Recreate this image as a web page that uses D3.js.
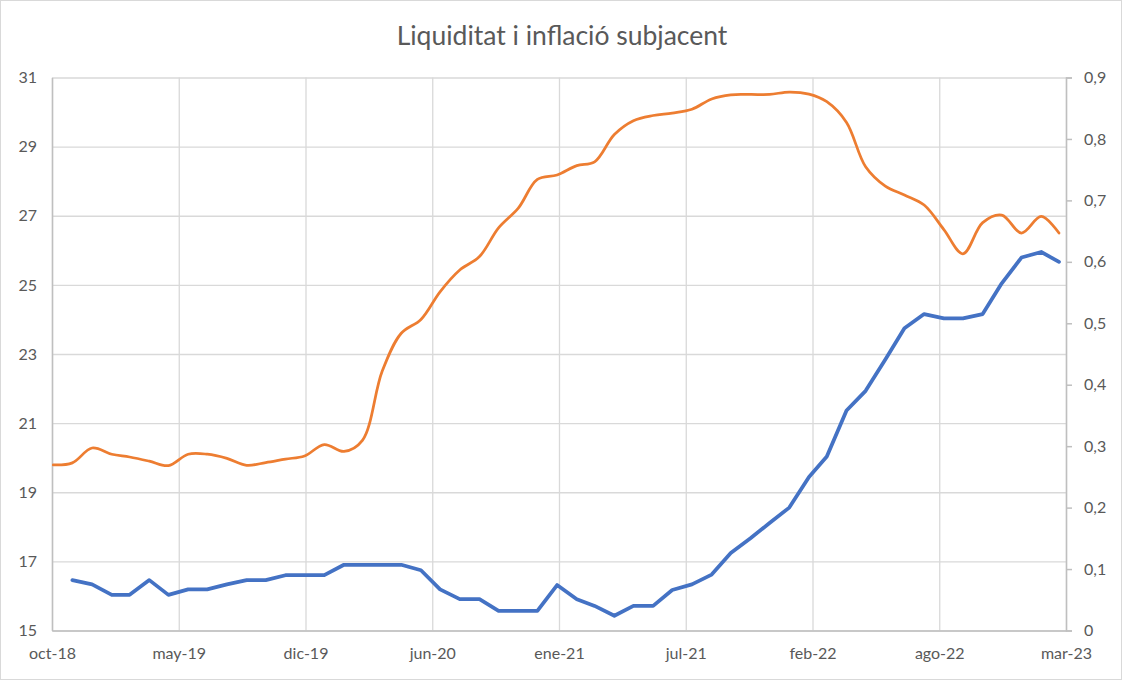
<!DOCTYPE html>
<html>
<head>
<meta charset="utf-8">
<script src="https://cdn.jsdelivr.net/npm/d3@7"></script>
<style>
  body { margin: 0; background: #fff; }
  text { font-family: Lato, "Open Sans", sans-serif; fill: #595959; }
</style>
</head>
<body>
<div id="chart"></div>
<script>
// Month of each observation (end of month)
const periods = [
  '2018-10', '2018-11', '2018-12',
  '2019-01', '2019-02', '2019-03', '2019-04', '2019-05', '2019-06', '2019-07', '2019-08', '2019-09', '2019-10', '2019-11', '2019-12',
  '2020-01', '2020-02', '2020-03', '2020-04', '2020-05', '2020-06', '2020-07', '2020-08', '2020-09', '2020-10', '2020-11', '2020-12',
  '2021-01', '2021-02', '2021-03', '2021-04', '2021-05', '2021-06', '2021-07', '2021-08', '2021-09', '2021-10', '2021-11', '2021-12',
  '2022-01', '2022-02', '2022-03', '2022-04', '2022-05', '2022-06', '2022-07', '2022-08', '2022-09', '2022-10', '2022-11', '2022-12',
  '2023-01', '2023-02'
];

// Orange series, left axis (starts oct-18)
const liquidity = [
  19.79, 19.85, 20.28, 20.10, 20.02, 19.90, 19.77, 20.10, 20.10, 19.98, 19.78, 19.86, 19.96,
  20.05, 20.38, 20.18, 20.50, 22.50, 23.60, 24.00, 24.80, 25.43, 25.82, 26.65, 27.22, 28.05,
  28.18, 28.45, 28.56, 29.35, 29.75, 29.90, 29.97, 30.08, 30.38, 30.50, 30.51, 30.51, 30.58,
  30.52, 30.30, 29.70, 28.42, 27.86, 27.60, 27.31, 26.60, 25.90, 26.80, 27.02, 26.50, 26.98, 26.50
];

// Blue series, right axis (starts nov-18)
const coreInflation = [
  0.082, 0.075, 0.058, 0.058, 0.082, 0.058, 0.067, 0.067, 0.075, 0.082, 0.082, 0.090,
  0.090, 0.090, 0.107, 0.107, 0.107, 0.107, 0.098, 0.067, 0.051, 0.051, 0.032, 0.032,
  0.032, 0.074, 0.051, 0.040, 0.024, 0.040, 0.040, 0.066, 0.075, 0.091, 0.126, 0.150,
  0.175, 0.200, 0.250, 0.283, 0.358, 0.390, 0.441, 0.492, 0.515, 0.508, 0.508, 0.515,
  0.565, 0.607, 0.616, 0.600
];

const xTickLabels = ['oct-18', 'may-19', 'dic-19', 'jun-20', 'ene-21', 'jul-21', 'feb-22', 'ago-22', 'mar-23'];
const leftTicks = [15, 17, 19, 21, 23, 25, 27, 29, 31];
const rightTicks = [0, 0.1, 0.2, 0.3, 0.4, 0.5, 0.6, 0.7, 0.8, 0.9];

const W = 1122, H = 680;
const margin = { top: 77.5, right: 56, bottom: 49.5, left: 52 };
const width = W - margin.left - margin.right;
const height = H - margin.top - margin.bottom;

const parseMonth = d3.utcParse('%Y-%m');
const monthEnd = s => d3.utcDay.offset(d3.utcMonth.offset(parseMonth(s), 1), -1);
const dates = periods.map(monthEnd);

const orangeData = liquidity.map((v, i) => ({ date: dates[i], value: v }));
const blueData = coreInflation.map((v, i) => ({ date: dates[i + 1], value: v }));

const svg = d3.select('#chart')
  .append('svg')
  .attr('width', W)
  .attr('height', H);

// Chart border
svg.append('rect')
  .attr('x', 0.5).attr('y', 0.5)
  .attr('width', W - 1).attr('height', H - 1)
  .attr('fill', '#fff')
  .attr('stroke', '#d9d9d9');

const g = svg.append('g')
  .attr('transform', `translate(${margin.left}, ${margin.top})`);

// Scales
const xStart = new Date(Date.UTC(2018, 9, 29));
const xEnd = new Date(Date.UTC(2023, 2, 11));
const x = d3.scaleUtc().domain([xStart, xEnd]).range([0, width]);
const xTicks = d3.range(xTickLabels.length)
  .map(k => new Date(+xStart + k * (xEnd - xStart) / (xTickLabels.length - 1)));

const yLeft = d3.scaleLinear().domain([15, 31]).range([height, 0]);
const yRight = d3.scaleLinear().domain([0, 0.9]).range([height, 0]);

// Gridlines
g.append('g')
  .attr('class', 'grid')
  .call(d3.axisLeft(yLeft).tickValues(leftTicks).tickSize(-width).tickFormat(''))
  .call(s => s.select('.domain').remove())
  .call(s => s.selectAll('line').attr('stroke', '#d9d9d9').attr('stroke-width', 1.3));

g.append('g')
  .attr('class', 'grid')
  .attr('transform', `translate(0, ${height})`)
  .call(d3.axisBottom(x).tickValues(xTicks).tickSize(-height).tickFormat(''))
  .call(s => s.select('.domain').remove())
  .call(s => s.selectAll('line').attr('stroke', '#d9d9d9').attr('stroke-width', 1.3));

// Axes
const fmtRight = d => d === 0 ? '0' : d.toFixed(1).replace('.', ',');

g.append('g')
  .call(d3.axisLeft(yLeft).tickValues(leftTicks).tickSize(0).tickPadding(15))
  .call(s => s.select('.domain').attr('stroke', '#bfbfbf').attr('stroke-width', 1.5))
  .call(s => s.selectAll('text').style('font-size', '16px').attr('fill', '#595959'));

g.append('g')
  .attr('transform', `translate(${width}, 0)`)
  .call(d3.axisRight(yRight).tickValues(rightTicks).tickSize(6).tickPadding(12).tickFormat(fmtRight))
  .call(s => s.select('.domain').attr('stroke', '#bfbfbf').attr('stroke-width', 1.5))
  .call(s => s.selectAll('line').attr('stroke', '#bfbfbf').attr('stroke-width', 1.5))
  .call(s => s.selectAll('text').style('font-size', '16px').attr('fill', '#595959'));

g.append('g')
  .attr('transform', `translate(0, ${height})`)
  .call(d3.axisBottom(x).tickValues(xTicks).tickSize(0).tickPadding(17)
    .tickFormat((d, i) => xTickLabels[i]))
  .call(s => s.select('.domain').attr('stroke', '#bfbfbf').attr('stroke-width', 1.5))
  .call(s => s.selectAll('text').style('font-size', '16px').attr('fill', '#595959'));

// Lines
const orangeLine = d3.line()
  .x(d => x(d.date))
  .y(d => yLeft(d.value))
  .curve(d3.curveCatmullRom.alpha(0.5));

const blueLine = d3.line()
  .x(d => x(d.date))
  .y(d => yRight(d.value));

g.append('path')
  .datum(orangeData)
  .attr('fill', 'none')
  .attr('stroke', '#ed7d31')
  .attr('stroke-width', 2.75)
  .attr('stroke-linejoin', 'round')
  .attr('stroke-linecap', 'round')
  .attr('d', orangeLine);

g.append('path')
  .datum(blueData)
  .attr('fill', 'none')
  .attr('stroke', '#4472c4')
  .attr('stroke-width', 3.75)
  .attr('stroke-linejoin', 'round')
  .attr('stroke-linecap', 'round')
  .attr('d', blueLine);

// Title
svg.append('text')
  .attr('x', W / 2 + 1)
  .attr('y', 45)
  .attr('text-anchor', 'middle')
  .style('font-size', '26.5px')
  .text('Liquiditat i inflació subjacent');
</script>
</body>
</html>
